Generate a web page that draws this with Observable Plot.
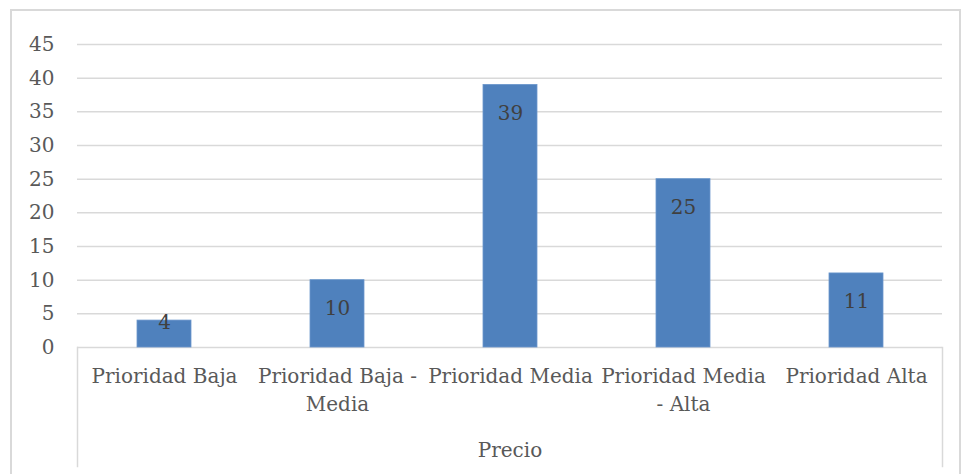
<!DOCTYPE html>
<html>
<head>
<meta charset="utf-8">
<script src="https://cdn.jsdelivr.net/npm/d3@7"></script>
<script src="https://cdn.jsdelivr.net/npm/@observablehq/plot@0.6"></script>
<style>
  html, body { margin: 0; padding: 0; background: #fff; }
  #wrap { position: relative; width: 963px; height: 474px; overflow: hidden; }
  #border { position: absolute; left: 10px; top: 9px; width: 951px; height: 480px; border: 2px solid #d9d9d9; box-sizing: border-box; }
  #chart { position: absolute; left: 0; top: 0; }
  #chart svg, #chart svg text, #chart svg g { font-family: "DejaVu Serif", serif !important; }
</style>
</head>
<body>
<div id="wrap"><div id="border"></div><div id="chart"></div></div>
<script>
const categories = ["Prioridad Baja", "Prioridad Baja - Media", "Prioridad Media", "Prioridad Media - Alta", "Prioridad Alta"];
const tickLabels = ["Prioridad Baja", "Prioridad Baja -\nMedia", "Prioridad Media", "Prioridad Media\n- Alta", "Prioridad Alta"];
const values = [4, 10, 39, 25, 11];
const yTicks = [0, 5, 10, 15, 20, 25, 30, 35, 40, 45];
const groupLabel = "Precio";

const data = categories.map((c, i) => ({category: c, value: values[i]}));
const FONT = "DejaVu Serif";
const FS = 20;

const chart = Plot.plot({
  width: 963,
  height: 474,
  marginLeft: 77,
  marginRight: 21,
  marginTop: 44,
  marginBottom: 127,
  style: {fontFamily: FONT, fontSize: FS + "px", color: "#595959", background: "transparent"},
  x: {domain: categories, paddingInner: 0.69, paddingOuter: 0.345, axis: null, label: null},
  y: {domain: [0, 45], axis: null, label: null},
  marks: [
    Plot.gridY(yTicks, {stroke: "#d9d9d9", strokeOpacity: 1, strokeWidth: 1.5}),
    Plot.axisY(yTicks, {tickSize: 0, tickPadding: 23, fill: "#595959", fontSize: FS, fontFamily: FONT, label: null}),
    Plot.barY(data, {x: "category", y: "value", fill: "#4f81bd", stroke: "#6b97cc", strokeWidth: 0.8}),
    Plot.text(data, {
      x: "category",
      y: d => d.value >= 8 ? d.value - 4.2 : d.value - 0.35,
      text: d => String(d.value),
      fill: "#404040",
      fontSize: FS,
      fontFamily: FONT
    }),
    Plot.axisX(categories, {
      tickSize: 0,
      tickPadding: 16,
      lineAnchor: "top",
      lineHeight: 1.38,
      fill: "#595959",
      fontSize: FS,
      fontFamily: FONT,
      label: null,
      tickFormat: d => tickLabels[categories.indexOf(d)]
    }),
    Plot.frame({anchor: "left", stroke: "#d9d9d9", strokeWidth: 1.5, insetTop: 303, insetBottom: -119}),
    Plot.frame({anchor: "right", stroke: "#d9d9d9", strokeWidth: 1.5, insetTop: 303, insetBottom: -119}),
    Plot.text([groupLabel], {frameAnchor: "bottom", dy: 109, text: d => d, fill: "#595959", fontSize: FS, fontFamily: FONT})
  ]
});
document.getElementById("chart").appendChild(chart);
</script>
</body>
</html>
